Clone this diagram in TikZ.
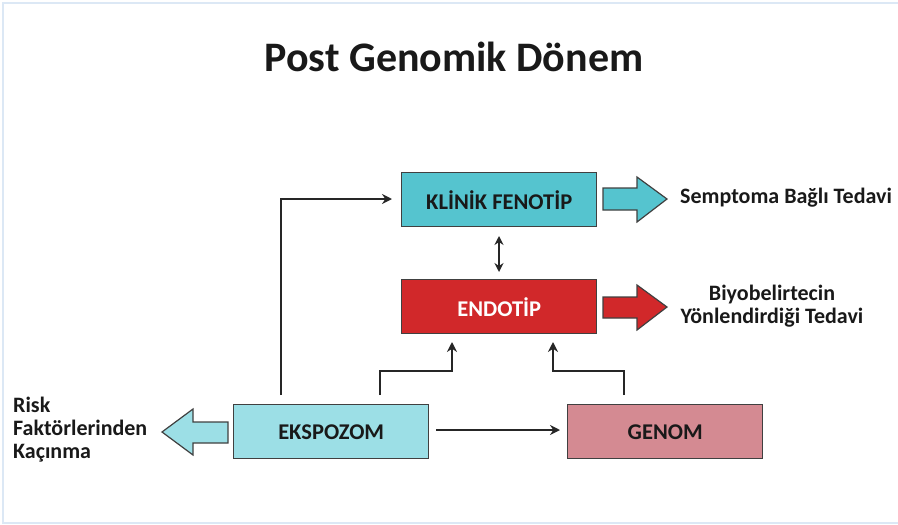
\documentclass[tikz,border=0pt]{standalone}
\usepackage{fontspec}
\setmainfont{Carlito}
\usetikzlibrary{arrows.meta,shapes.arrows}
\definecolor{frameblue}{HTML}{DCE8F5}
\definecolor{cyanbox}{HTML}{55C4CF}
\definecolor{lightcyan}{HTML}{9CDFE6}
\definecolor{redbox}{HTML}{D1282A}
\definecolor{pinkbox}{HTML}{D48A92}
\definecolor{edgegray}{HTML}{404040}
\tikzset{
  box/.style={draw=edgegray, line width=1.4pt, minimum width=195pt, minimum height=54pt,
    inner sep=0pt, font=\bfseries\fontsize{22.5}{26}\selectfont, anchor=north west},
  blockarrow/.style={draw=edgegray, line width=1.2pt},
  tip/.style={Stealth[length=10pt,width=10pt]},
  conn/.style={draw=black!85, line width=2pt, -{Stealth[length=10pt,width=10pt]}},
  lbl/.style={font=\bfseries\fontsize{22}{25}\selectfont, text=black!90, inner sep=0pt},
}
\begin{document}
\begin{tikzpicture}[x=1pt,y=-1pt]
\useasboundingbox (0,0) rectangle (898,525);
\draw[frameblue, line width=2pt] (3,3) rectangle (902,523);

\node[lbl, font=\bfseries\fontsize{42}{48}\selectfont] (title) at (454,57) {Post Genomik Dönem};

\node[box, fill=cyanbox, text=black!90] (klinik) at (401,172) {KLİNİK FENOTİP};
\node[box, fill=redbox, text=white] (endo) at (401,279) {ENDOTİP};
\node[box, fill=lightcyan, text=black!90] (eks) at (233,404) {EKSPOZOM};
\node[box, fill=pinkbox, text=black!90] (gen) at (567,404) {GENOM};

% block arrows
\draw[blockarrow, fill=cyanbox] (603,188) -- (637,188) -- (637,177) -- (667,199) -- (637,222) -- (637,210) -- (603,210) -- cycle;
\draw[blockarrow, fill=redbox] (603,297) -- (637,297) -- (637,285) -- (667,307) -- (637,330) -- (637,318) -- (603,318) -- cycle;
\draw[blockarrow, fill=lightcyan] (228,422) -- (193,422) -- (193,409) -- (162,432) -- (193,455) -- (193,443) -- (228,443) -- cycle;

% texts
\node[lbl, anchor=west] (semp) at (680,198) {Semptoma Bağlı Tedavi};
\node[lbl, align=center] (biyo) at (772,306) {Biyobelirtecin\\[-2pt]Yönlendirdiği Tedavi};
\node[lbl, align=left, anchor=west] (risk) at (13,430) {Risk\\[-2pt]Faktörlerinden\\[-2pt]Kaçınma};

% connectors
\coordinate (a1) at (281,395);
\coordinate (k1) at (392,199);
\coordinate (d1) at (499,236);
\coordinate (d2) at (499,272);
\coordinate (e1) at (380,395);
\coordinate (e2) at (452,342);
\coordinate (g1) at (624,395);
\coordinate (g2) at (553,342);
\coordinate (h1) at (436,430);
\coordinate (h2) at (560,430);
\draw[conn] (a1) |- (k1);
\draw[conn, {Stealth[length=9pt,width=9pt]}-{Stealth[length=9pt,width=9pt]}] (d1) -- (d2);
\draw[conn] (e1) -- (380,371) -| (e2);
\draw[conn] (g1) -- (624,371) -| (g2);
\draw[conn] (h1) -- (h2);
\end{tikzpicture}
\end{document}
